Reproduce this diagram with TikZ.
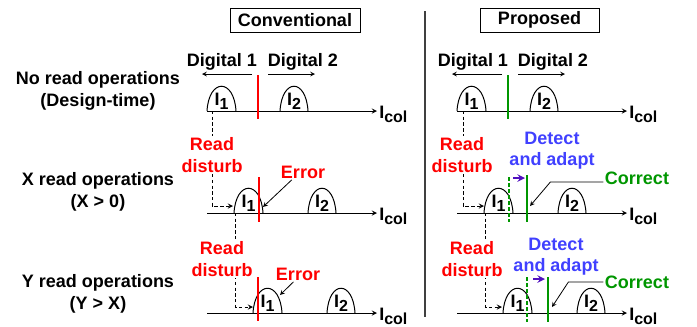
\documentclass[tikz,border=0pt]{standalone}
\usepackage{fontspec}
\setmainfont{Liberation Sans}
\definecolor{errred}{RGB}{255,0,0}
\definecolor{okgreen}{RGB}{0,150,0}
\definecolor{fixblue}{RGB}{64,64,255}
\definecolor{shiftviolet}{RGB}{80,16,192}
\newcommand{\lowtxt}[1]{\raisebox{-3pt}{\fontsize{12}{12}\selectfont #1}}
\tikzset{
  txt/.style={font=\fontsize{13.5}{16}\selectfont\bfseries,align=center,inner sep=1pt},
  titlebox/.style={txt,draw,line width=0.75pt,minimum height=18pt},
  sym/.style={txt,anchor=base,inner sep=0pt},
  icol/.style={txt,anchor=base west,inner sep=0pt},
  axis/.style={->,line width=0.75pt},
  hump/.style={line width=0.75pt},
  ptr/.style={->,line width=0.6pt},
  readpath/.style={->,line width=0.75pt,dash pattern=on 2.5pt off 1.8pt},
  errline/.style={line width=1.5pt,errred},
  okline/.style={line width=1.5pt,okgreen},
  oldline/.style={line width=1.2pt,okgreen,dash pattern=on 3pt off 1.5pt},
  shiftarrow/.style={->,line width=1.5pt,shiftviolet}
}
\begin{document}
\begin{tikzpicture}[x=0.75pt,y=-0.75pt,>=stealth]
\useasboundingbox (0,0) rectangle (697,326);

% titles and divider
\node[titlebox,minimum width=97.5pt] (conv) at (295,20) {Conventional};
\node[titlebox,minimum width=89.25pt] (prop) at (539.5,20) {Proposed};
\draw[line width=1.1pt,black!75] (425,11) -- (425,317);

% row labels
\node[txt] (noread) at (98,91) {No read operations\\(Design-time)};
\node[txt] (xread) at (98,192) {X read operations\\(X > 0)};
\node[txt] (yread) at (98,294) {Y read operations\\(Y > X)};

% ---- conventional ----
\node[txt] (digonea) at (222,62) {Digital 1};
\node[txt] (digtwoa) at (303,62) {Digital 2};
\draw[ptr] (252,74) -- (202,74);
\draw[ptr] (268,74) -- (315,74);
\draw[readpath] (212,111) |- (233,206);
\draw[readpath] (235.5,213) |- (253,307);

\draw[axis] (207,111) -- (377,111);
\node[icol] (icola) at (379,118) {I\lowtxt{col}};
\draw[hump] (207,111) .. controls (209,78) and (234,78) .. (236,111);
\draw[hump] (280,111) .. controls (282,78) and (306,78) .. (308,111);
\node[sym] (ionea) at (221.5,105) {I\lowtxt{1}};
\node[sym] (itwoa) at (294,105) {I\lowtxt{2}};
\draw[errline] (258,75) -- (258,119);

\draw[axis] (207,213) -- (377,213);
\node[icol] (icolb) at (379,220) {I\lowtxt{col}};
\draw[hump] (234,213) .. controls (236,180) and (261,180) .. (263,213);
\draw[hump] (308,213) .. controls (310,180) and (334,180) .. (336,213);
\node[sym] (ioneb) at (248.5,207) {I\lowtxt{1}};
\node[sym] (itwob) at (322,207) {I\lowtxt{2}};
\draw[errline] (259,177) -- (259,222);
\node[txt,errred,fill=white] (rda) at (212,155) {Read\\disturb};
\node[txt,errred] (erra) at (303,172) {Error};
\coordinate (errtipa) at (263,207);
\draw[ptr] (erra.215) -- (errtipa);

\draw[axis] (207,313) -- (377,313);
\node[icol] (icolc) at (379,320) {I\lowtxt{col}};
\draw[hump] (253,313) .. controls (255,280) and (280,280) .. (282,313);
\draw[hump] (327,313) .. controls (329,280) and (353,280) .. (355,313);
\node[sym] (ionec) at (267.5,307) {I\lowtxt{1}};
\node[sym] (itwoc) at (341,307) {I\lowtxt{2}};
\draw[errline] (258,277) -- (258,321);
\node[txt,errred,fill=white] (rdb) at (222,259) {Read\\disturb};
\node[txt,errred] (errb) at (298,274) {Error};
\coordinate (errtipb) at (280,295);
\draw[ptr] (errb.240) -- (errtipb);

% ---- proposed ----
\node[txt] (digoneb) at (473,62) {Digital 1};
\node[txt] (digtwob) at (553,62) {Digital 2};
\draw[ptr] (502,74) -- (452,74);
\draw[ptr] (518,74) -- (565,74);
\draw[readpath] (463,111) |- (484,206);
\draw[readpath] (485.5,213) |- (502,307);

\draw[axis] (457,111) -- (627,111);
\node[icol] (icold) at (629,118) {I\lowtxt{col}};
\draw[hump] (457,111) .. controls (459,78) and (484,78) .. (486,111);
\draw[hump] (530,111) .. controls (532,78) and (556,78) .. (558,111);
\node[sym] (ioned) at (471.5,105) {I\lowtxt{1}};
\node[sym] (itwod) at (544,105) {I\lowtxt{2}};
\draw[okline] (508,75) -- (508,119);

\draw[axis] (457,213) -- (627,213);
\node[icol] (icole) at (629,220) {I\lowtxt{col}};
\draw[hump] (484,213) .. controls (486,180) and (511,180) .. (513,213);
\draw[hump] (558,213) .. controls (560,180) and (584,180) .. (586,213);
\node[sym] (ionee) at (498.5,207) {I\lowtxt{1}};
\node[sym] (itwoe) at (572,207) {I\lowtxt{2}};
\draw[oldline] (509,177) -- (509,222);
\draw[shiftarrow] (513,178) -- (525,178);
\draw[okline] (527,175) -- (527,222);
\node[txt,errred,fill=white] (rdc) at (462,155) {Read\\disturb};
\node[txt,fixblue] (adapta) at (552,151) {Detect\\and adapt};
\node[txt,okgreen] (corra) at (637,178) {Correct};
\coordinate (cortipa) at (530,206);
\draw[ptr] ([yshift=-3pt]corra.west) -- ++(-53,0) -- (cortipa);

\draw[axis] (457,313) -- (627,313);
\node[icol] (icolf) at (629,320) {I\lowtxt{col}};
\draw[hump] (503,313) .. controls (505,280) and (530,280) .. (532,313);
\draw[hump] (577,313) .. controls (579,280) and (603,280) .. (605,313);
\node[sym] (ionef) at (517.5,307) {I\lowtxt{1}};
\node[sym] (itwof) at (591,307) {I\lowtxt{2}};
\draw[oldline] (527,277) -- (527,322);
\draw[shiftarrow] (533,279) -- (545,279);
\draw[okline] (548,277) -- (548,322);
\node[txt,errred,fill=white] (rdd) at (472,259) {Read\\disturb};
\node[txt,fixblue] (adaptb) at (556,256.5) {Detect\\and adapt};
\node[txt,okgreen] (corrb) at (637,282) {Correct};
\coordinate (cortipb) at (552,307);
\draw[ptr] (corrb.west) -- ++(-35,0) -- (cortipb);
\end{tikzpicture}
\end{document}
